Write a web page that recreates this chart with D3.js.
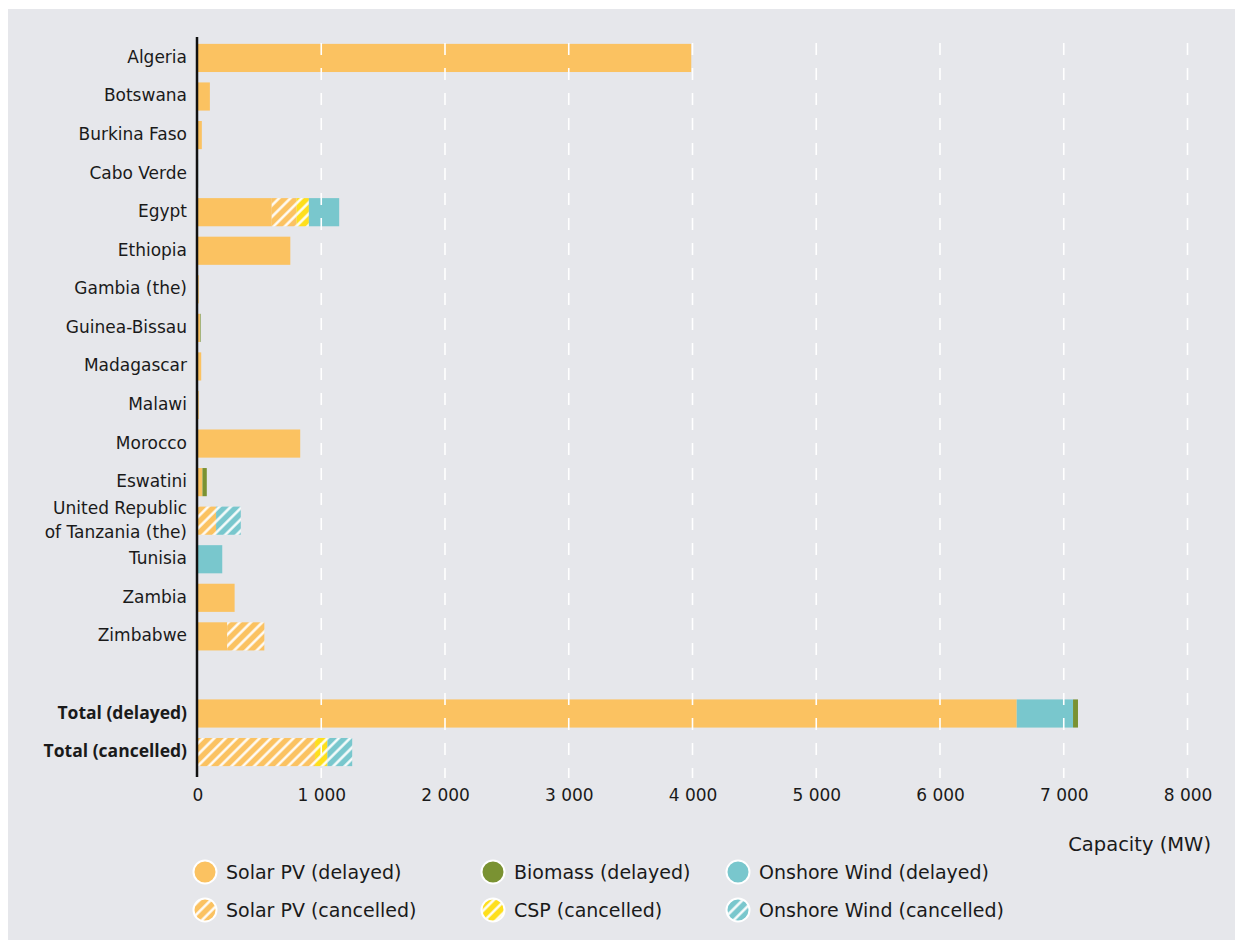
<!DOCTYPE html>
<html lang="en">
<head>
  <title>Delayed and cancelled capacity</title>
  <script src="https://d3js.org/d3.v7.min.js"></script>
  <style>
    body { margin: 0; background: #fff; }
    text { font-family: "DejaVu Sans", sans-serif; fill: #1a1a1a; }
  </style>
</head>
<body>
<div id="chart"></div>
<script>
// categories (blank row separates the totals)
const countries = ["Algeria", "Botswana", "Burkina Faso", "Cabo Verde", "Egypt", "Ethiopia",
  "Gambia (the)", "Guinea-Bissau", "Madagascar", "Malawi", "Morocco", "Eswatini",
  "United Republic|of Tanzania (the)", "Tunisia", "Zambia", "Zimbabwe", "",
  "Total (delayed)", "Total (cancelled)"];

// series values (MW)
const solarDelayed   = [3990, 100, 35, 0, 600, 750, 10, 20, 30, 10, 830, 40, 0, 0, 300, 240, 0, 6620, 0];
const solarCancelled = [0, 0, 0, 0, 200, 0, 0, 0, 0, 0, 0, 0, 150, 0, 0, 300, 0, 0, 950];
const cspCancelled   = [0, 0, 0, 0, 100, 0, 0, 0, 0, 0, 0, 0, 0, 0, 0, 0, 0, 0, 100];
const windDelayed    = [0, 0, 0, 5, 245, 0, 0, 0, 0, 0, 0, 0, 0, 200, 0, 0, 0, 455, 0];
const windCancelled  = [0, 0, 0, 0, 0, 0, 0, 0, 0, 0, 0, 0, 200, 0, 0, 0, 0, 0, 200];
const biomassDelayed = [0, 0, 0, 0, 0, 0, 0, 5, 0, 0, 0, 35, 0, 0, 0, 0, 0, 40, 0];

const xTicks = [0, 1000, 2000, 3000, 4000, 5000, 6000, 7000, 8000];

const series = [
  {key: "solarD", name: "Solar PV (delayed)",     values: solarDelayed,   color: "#fbc261", hatch: false},
  {key: "solarC", name: "Solar PV (cancelled)",   values: solarCancelled, color: "#fbc261", hatch: true},
  {key: "cspC",   name: "CSP (cancelled)",        values: cspCancelled,   color: "#fedf1c", hatch: true},
  {key: "windD",  name: "Onshore Wind (delayed)", values: windDelayed,    color: "#79c7cd", hatch: false},
  {key: "windC",  name: "Onshore Wind (cancelled)", values: windCancelled, color: "#79c7cd", hatch: true},
  {key: "bioD",   name: "Biomass (delayed)",      values: biomassDelayed, color: "#7a9232", hatch: false}
];

// the blank row needs a unique id for the band scale
const cats = countries.map(c => c === "" ? "__blank" : c);

const table = cats.map((c, i) => {
  const row = {cat: c};
  series.forEach(s => row[s.key] = s.values[i]);
  return row;
});

const W = 1235, H = 940;
const svg = d3.select("#chart").append("svg")
  .attr("width", W).attr("height", H);

const defs = svg.append("defs");
series.filter(s => s.hatch).forEach(s => {
  const p = defs.append("pattern")
    .attr("id", "hatch-" + s.key)
    .attr("patternUnits", "userSpaceOnUse")
    .attr("width", 8).attr("height", 8)
    .attr("patternTransform", "rotate(45)");
  p.append("rect").attr("width", 8).attr("height", 8).attr("fill", s.color);
  p.append("line").attr("x1", 1.5).attr("x2", 1.5).attr("y1", 0).attr("y2", 8)
    .attr("stroke", "#fff").attr("stroke-width", 2.4);
});
const fillOf = s => s.hatch ? `url(#hatch-${s.key})` : s.color;

// panel background
svg.append("rect").attr("x", 8).attr("y", 9).attr("width", W - 8).attr("height", H - 9)
  .attr("fill", "#e6e7eb");

const x = d3.scaleLinear().domain([0, 8000]).range([197.5, 1187.5]);
const y = d3.scaleBand().domain(cats).range([35, 775]).paddingInner(0.27).paddingOuter(0.23);

const stacked = d3.stack().keys(series.map(s => s.key))(table);

// bars
const layers = svg.append("g").selectAll("g")
  .data(stacked)
  .join("g")
    .attr("fill", (d, i) => fillOf(series[i]));
layers.selectAll("rect")
  .data(d => d.filter(v => v[1] - v[0] > 0))
  .join("rect")
    .attr("x", d => x(d[0]))
    .attr("y", d => y(d.data.cat))
    .attr("width", d => x(d[1]) - x(d[0]))
    .attr("height", y.bandwidth());

// dashed grid lines over the bars
svg.append("g").selectAll("line")
  .data(xTicks.slice(1))
  .join("line")
    .attr("x1", d => x(d)).attr("x2", d => x(d))
    .attr("y1", 37).attr("y2", 778)
    .attr("stroke", "#fff").attr("stroke-width", 1.6)
    .attr("stroke-dasharray", "12,13")
    .attr("stroke-dashoffset", -6);

// x axis tick labels
const xAxis = svg.append("g")
  .attr("transform", "translate(0,778)")
  .call(d3.axisBottom(x).tickValues(xTicks).tickSize(0).tickPadding(11)
    .tickFormat(d => d3.format(",")(d).replace(",", " ")));
xAxis.select(".domain").remove();
xAxis.selectAll("text").attr("font-size", 17).attr("fill", "#1a1a1a");

// y axis labels
const yAxis = svg.append("g").attr("transform", "translate(187,0)");
cats.forEach(c => {
  if (c === "__blank") return;
  const lines = c.split("|");
  const bold = c.startsWith("Total");
  const t = yAxis.append("text")
    .attr("text-anchor", "end")
    .attr("font-size", bold ? 17.5 : 17)
    .style("font-family", bold ? "'Open Sans', sans-serif" : null)
    .style("font-weight", bold ? 700 : 400)
    .attr("y", y(c) + y.bandwidth() / 2 - 1 - (lines.length - 1) * 12);
  lines.forEach((l, j) => {
    t.append("tspan").attr("x", 0).attr("dy", j === 0 ? "0.35em" : 24).text(l);
  });
});

// zero line
svg.append("line")
  .attr("x1", x(0) - 0.5).attr("x2", x(0) - 0.5)
  .attr("y1", 37).attr("y2", 777)
  .attr("stroke", "#111").attr("stroke-width", 2.5);

// axis title
svg.append("text")
  .attr("x", 1211).attr("y", 851)
  .attr("text-anchor", "end")
  .attr("font-size", 19.5)
  .text("Capacity (MW)");

// legend
const legendOrder = ["solarD", "bioD", "windD", "solarC", "cspC", "windC"];
const legCols = [205, 493, 738];
const legRows = [872, 910];
const legend = svg.append("g");
legendOrder.forEach((k, i) => {
  const s = series.find(d => d.key === k);
  const cx = legCols[i % 3], cy = legRows[Math.floor(i / 3)];
  legend.append("circle")
    .attr("cx", cx).attr("cy", cy).attr("r", 11.5)
    .attr("fill", fillOf(s))
    .attr("stroke", "#fff").attr("stroke-width", 2);
  legend.append("text")
    .attr("x", cx + 21).attr("y", cy)
    .attr("dy", "0.35em")
    .attr("font-size", 19)
    .text(s.name);
});
</script>
</body>
</html>
